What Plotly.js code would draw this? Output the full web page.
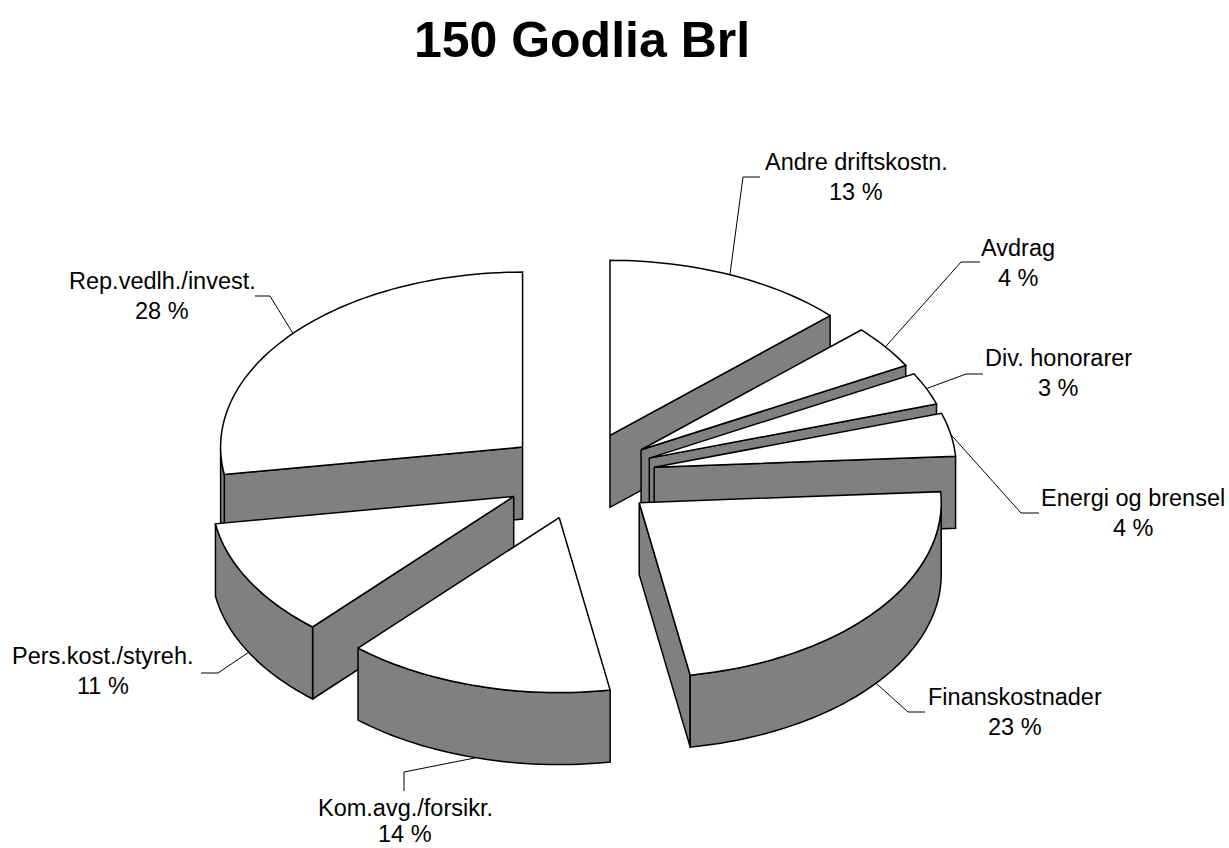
<!DOCTYPE html>
<html><head><meta charset="utf-8">
<script src="https://cdn.plot.ly/plotly-3.0.1.min.js"></script>
<style>html,body{margin:0;padding:0;background:#fff}#c{width:1229px;height:848px}</style>
</head><body><div id="c"></div>
<script>
const categories = ["Andre driftskostn.","Avdrag","Div. honorarer","Energi og brensel","Finanskostnader","Kom.avg./forsikr.","Pers.kost./styreh.","Rep.vedlh./invest."];
const shares = [13.0,4.0,3.0,4.0,23.3,14.3,10.9,27.5];
const titleText = "150 Godlia Brl";

// projection of the tilted pie, in pixel units of the hidden axes
const pie = {cx:580, cy:475.5, rx:302, ry:175, depth:72, explode:0.25};
const labelCentres = [[856,162],[1018,248],[1058,358],[1133,498],[1015,697],[405,808],[103,656],[162,281]];
const lineGaps = [30,30,30,30,30,26,30,30];
const leaderBends = [[[743,177],[760,177]],[[961,262],[980,262]],[[966,374],[983,374]],[[1021,513],[1039,513]],
                     [[908,712],[925,712]],[[404,772],[404,791]],[[218,673],[201,673]],[[270,296],[255,296]]];
const GREY = "#808080";

const rad = d => d*Math.PI/180;
const rimPt = (a,t) => [a[0]+pie.rx*Math.sin(rad(t)), a[1]-pie.ry*Math.cos(rad(t))];
const down = p => [p[0], p[1]+pie.depth];
const poly = (pts,fill,w) => ({type:"scatter",mode:"lines",x:pts.map(p=>p[0]),y:pts.map(p=>p[1]),
  fill:"toself",fillcolor:fill,line:{color:"#000",width:w,simplify:false},hoverinfo:"skip",showlegend:false});

let total = shares.reduce((a,b)=>a+b,0), run = 0;
const slices = shares.map((v,i)=>{
  const t0 = run/total*360; run += v; const t1 = run/total*360; const mid=(t0+t1)/2;
  const apex = [pie.cx+pie.explode*pie.rx*Math.sin(rad(mid)), pie.cy-pie.explode*pie.ry*Math.cos(rad(mid))];
  return {i,t0,t1,mid,apex};
});
const traces = [];
slices.slice().sort((a,b)=>a.apex[1]-b.apex[1]).forEach(s=>{
  const {t0,t1,apex} = s;
  const wall = t => { const p=rimPt(apex,t); return [apex,p,down(p),down(apex),apex]; };
  // a radial wall shows only where going down the screen leaves the slice
  if(Math.sin(rad(t0))<-1e-6) traces.push(poly(wall(t0),GREY,1.5));
  if(Math.sin(rad(t1))>1e-6) traces.push(poly(wall(t1),GREY,1.5));
  const a=Math.max(t0,90), b=Math.min(t1,270);
  const arc=(p,q)=>{const o=[];const n=Math.max(2,Math.ceil((q-p)/1.5));for(let k=0;k<=n;k++)o.push(rimPt(apex,p+(q-p)*k/n));return o;};
  if(b>a){const top=arc(a,b);traces.push(poly(top.concat(top.slice().reverse().map(down),[top[0]]),GREY,1.5));}
  traces.push(poly([apex].concat(arc(t0,t1),[apex]),"#fff",1.5));
});
// leader lines
slices.forEach(s=>{
  const p=rimPt(s.apex,s.mid);
  const start=Math.cos(rad(s.mid))<0?down(p):p;
  const pts=[start].concat(leaderBends[s.i]);
  traces.push({type:"scatter",mode:"lines",x:pts.map(q=>q[0]),y:pts.map(q=>q[1]),line:{color:"#000",width:1},hoverinfo:"skip",showlegend:false});
});
const annotations=[];
const txt=(x,y,text)=>({x,y,text,xref:"x",yref:"y",showarrow:false,xanchor:"center",yanchor:"middle",
  font:{family:"Liberation Sans, Arial, sans-serif",size:23.5,color:"#000"}});
categories.forEach((c,i)=>{
  annotations.push(txt(labelCentres[i][0],labelCentres[i][1],c));
  annotations.push(txt(labelCentres[i][0],labelCentres[i][1]+lineGaps[i],Math.round(shares[i])+" %"));
});
Plotly.newPlot("c",traces,{
  width:1229,height:848,margin:{l:0,r:0,t:0,b:0},paper_bgcolor:"#fff",plot_bgcolor:"#fff",showlegend:false,
  title:{text:"<b>"+titleText+"</b>",x:582/1229,xanchor:"center",y:1-39/848,yanchor:"middle",
    font:{family:"Liberation Sans, Arial, sans-serif",size:50,color:"#000"}},
  xaxis:{range:[0,1229],visible:false,fixedrange:true},
  yaxis:{range:[848,0],visible:false,fixedrange:true},
  annotations
},{displayModeBar:false,staticPlot:true});
</script></body></html>
